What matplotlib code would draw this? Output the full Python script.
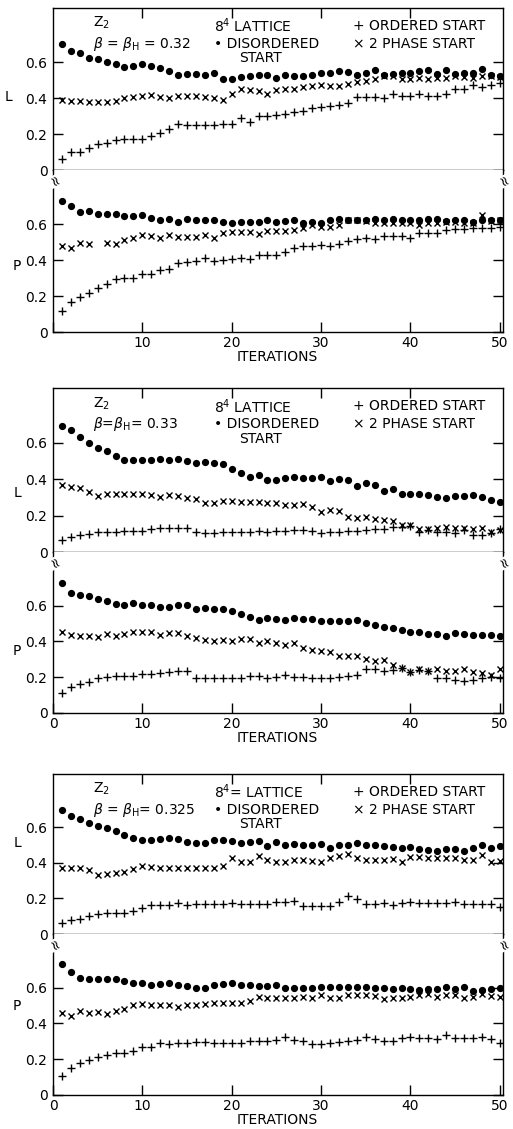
import numpy as np
import matplotlib
matplotlib.use("Agg")
import matplotlib.pyplot as plt

plt.rcParams['font.family'] = ['DejaVu Sans']
plt.rcParams['mathtext.fontset'] = 'dejavusans'

iterations = np.arange(1, 51)
nan = np.nan

# ---------------- Panel 1 : beta = 0.32 ----------------
p1_L_disordered = [0.70, 0.66, 0.65, 0.62, 0.615, 0.60, 0.587, 0.57, 0.58, 0.59,
                   0.58, 0.565, 0.55, 0.53, 0.535, 0.535, 0.53, 0.54, 0.505, 0.505,
                   0.515, 0.52, 0.527, 0.527, 0.51, 0.527, 0.52, 0.525, 0.53, 0.54,
                   0.54, 0.55, 0.545, 0.53, 0.54, 0.553, 0.53, 0.535, 0.54, 0.54,
                   0.548, 0.555, 0.535, 0.553, 0.535, 0.54, 0.54, 0.563, 0.53, 0.52]
p1_L_twophase = [0.39, 0.385, 0.385, 0.38, 0.38, 0.38, 0.385, 0.40, 0.405, 0.41,
                 0.417, 0.405, 0.40, 0.413, 0.41, 0.413, 0.405, 0.40, 0.39, 0.42,
                 0.45, 0.447, 0.44, 0.425, 0.447, 0.45, 0.45, 0.46, 0.465, 0.47,
                 0.465, 0.465, 0.478, 0.49, 0.497, 0.505, 0.525, 0.52, 0.505, 0.505,
                 0.51, 0.505, 0.51, 0.51, 0.525, 0.515, 0.51, 0.525, 0.52, 0.515]
p1_L_ordered = [0.06, 0.10, 0.10, 0.125, 0.145, 0.148, 0.165, 0.17, 0.17, 0.175,
                0.19, 0.207, 0.23, 0.254, 0.25, 0.25, 0.25, 0.252, 0.254, 0.254,
                0.288, 0.267, 0.30, 0.30, 0.305, 0.31, 0.32, 0.33, 0.342, 0.348,
                0.353, 0.363, 0.372, 0.407, 0.407, 0.407, 0.40, 0.42, 0.41, 0.41,
                0.422, 0.41, 0.41, 0.422, 0.45, 0.45, 0.473, 0.46, 0.473, 0.484]
p1_P_disordered = [0.73, 0.70, 0.665, 0.67, 0.658, 0.658, 0.658, 0.647, 0.647, 0.65,
                   0.636, 0.625, 0.628, 0.612, 0.628, 0.62, 0.625, 0.625, 0.612, 0.603,
                   0.612, 0.612, 0.61, 0.625, 0.612, 0.615, 0.625, 0.606, 0.612, 0.603,
                   0.625, 0.63, 0.625, 0.625, 0.62, 0.63, 0.625, 0.63, 0.62, 0.62,
                   0.625, 0.628, 0.628, 0.615, 0.62, 0.625, 0.612, 0.62, 0.625, 0.62]
p1_P_twophase = [0.48, 0.468, 0.495, 0.49, nan, 0.495, 0.49, 0.51, 0.523, 0.54,
                 0.532, 0.523, 0.538, 0.528, 0.528, 0.528, 0.538, 0.52, 0.55, 0.555,
                 0.555, 0.555, 0.547, 0.56, 0.56, 0.56, 0.566, 0.578, 0.597, 0.584,
                 0.584, 0.597, 0.625, 0.62, 0.615, 0.603, 0.606, 0.606, 0.603, 0.603,
                 0.597, 0.606, 0.603, 0.61, 0.61, 0.606, 0.606, 0.648, 0.615, 0.62]
p1_P_ordered = [0.116, 0.168, 0.196, 0.218, 0.246, 0.264, 0.292, 0.30, 0.30, 0.325,
                0.325, 0.347, 0.35, 0.384, 0.388, 0.394, 0.412, 0.394, 0.40, 0.403,
                0.412, 0.407, 0.43, 0.43, 0.43, 0.444, 0.468, 0.477, 0.477, 0.486,
                0.48, 0.49, 0.505, 0.514, 0.52, 0.514, 0.536, 0.532, 0.532, 0.523,
                0.55, 0.55, 0.55, 0.566, 0.57, 0.57, 0.578, 0.578, 0.578, 0.584]

# ---------------- Panel 2 : beta = 0.33 ----------------
p2_L_disordered = [0.69, 0.668, 0.632, 0.60, 0.568, 0.553, 0.526, 0.504, 0.504, 0.504,
                   0.504, 0.513, 0.504, 0.513, 0.50, 0.49, 0.495, 0.486, 0.482, 0.458,
                   0.435, 0.41, 0.42, 0.395, 0.395, 0.404, 0.413, 0.404, 0.404, 0.41,
                   0.39, 0.40, 0.395, 0.363, 0.376, 0.367, 0.336, 0.345, 0.32, 0.316,
                   0.316, 0.312, 0.303, 0.298, 0.31, 0.31, 0.312, 0.303, 0.285, 0.272]
p2_L_twophase = [0.37, 0.358, 0.349, 0.33, 0.307, 0.32, 0.32, 0.32, 0.32, 0.32,
                 0.312, 0.303, 0.312, 0.307, 0.294, 0.29, 0.267, 0.27, 0.28, 0.28,
                 0.276, 0.276, 0.276, 0.27, 0.267, 0.257, 0.257, 0.263, 0.245, 0.22,
                 0.23, 0.225, 0.194, 0.185, 0.194, 0.18, 0.175, 0.172, 0.148, 0.148,
                 0.124, 0.124, 0.13, 0.135, 0.13, 0.13, 0.124, 0.13, 0.11, 0.12]
p2_L_ordered = [0.066, 0.084, 0.093, 0.10, 0.11, 0.11, 0.11, 0.115, 0.115, 0.117,
                0.124, 0.133, 0.133, 0.133, 0.13, 0.11, 0.105, 0.105, 0.11, 0.11,
                0.11, 0.11, 0.115, 0.11, 0.115, 0.115, 0.12, 0.12, 0.115, 0.105,
                0.11, 0.11, 0.115, 0.115, 0.12, 0.124, 0.124, 0.139, 0.139, 0.142,
                0.11, 0.12, 0.11, 0.11, 0.105, 0.12, 0.093, 0.093, 0.105, 0.124]
p2_P_disordered = [0.725, 0.67, 0.657, 0.655, 0.637, 0.624, 0.611, 0.602, 0.615, 0.605,
                   0.602, 0.593, 0.593, 0.605, 0.602, 0.583, 0.587, 0.583, 0.582, 0.572,
                   0.556, 0.536, 0.519, 0.532, 0.527, 0.519, 0.532, 0.528, 0.523, 0.517,
                   0.517, 0.517, 0.514, 0.519, 0.505, 0.492, 0.48, 0.473, 0.464, 0.455,
                   0.455, 0.444, 0.44, 0.431, 0.45, 0.44, 0.437, 0.437, 0.437, 0.428]
p2_P_twophase = [0.453, 0.437, 0.431, 0.431, 0.426, 0.44, 0.428, 0.44, 0.453, 0.453,
                 0.453, 0.437, 0.446, 0.446, 0.428, 0.418, 0.407, 0.404, 0.407, 0.404,
                 0.413, 0.413, 0.394, 0.404, 0.389, 0.38, 0.389, 0.361, 0.352, 0.349,
                 0.34, 0.316, 0.316, 0.316, 0.303, 0.288, 0.294, 0.27, 0.253, 0.229,
                 0.244, 0.235, 0.248, 0.235, 0.235, 0.244, 0.229, 0.224, 0.211, 0.248]
p2_P_ordered = [0.11, 0.143, 0.161, 0.174, 0.193, 0.202, 0.207, 0.206, 0.206, 0.22,
                0.22, 0.226, 0.229, 0.233, 0.233, 0.198, 0.193, 0.193, 0.193, 0.198,
                0.198, 0.206, 0.206, 0.193, 0.202, 0.211, 0.202, 0.202, 0.196, 0.198,
                0.198, 0.202, 0.206, 0.211, 0.244, 0.248, 0.235, 0.239, 0.253, 0.229,
                0.242, 0.235, 0.198, 0.198, 0.187, 0.178, 0.187, 0.193, 0.202, 0.193]

# ---------------- Panel 3 : beta = 0.325 ----------------
p3_L_disordered = [0.70, 0.665, 0.645, 0.626, 0.61, 0.594, 0.58, 0.555, 0.538, 0.529,
                   0.529, 0.533, 0.538, 0.533, 0.52, 0.51, 0.514, 0.529, 0.529, 0.525,
                   0.51, 0.518, 0.523, 0.497, 0.518, 0.50, 0.505, 0.50, 0.50, 0.505,
                   0.482, 0.50, 0.50, 0.51, 0.50, 0.50, 0.497, 0.488, 0.482, 0.488,
                   0.478, 0.473, 0.467, 0.478, 0.478, 0.469, 0.486, 0.50, 0.486, 0.497]
p3_L_twophase = [0.37, 0.374, 0.374, 0.36, 0.333, 0.336, 0.342, 0.351, 0.364, 0.385,
                 0.376, 0.374, 0.374, 0.374, 0.374, 0.374, 0.374, 0.374, 0.38, 0.426,
                 0.407, 0.407, 0.436, 0.417, 0.407, 0.407, 0.417, 0.417, 0.411, 0.407,
                 0.426, 0.436, 0.449, 0.426, 0.417, 0.417, 0.417, 0.422, 0.407, 0.432,
                 0.432, 0.426, 0.426, 0.426, 0.426, 0.417, 0.417, 0.445, 0.407, 0.411]
p3_L_ordered = [0.062, 0.08, 0.084, 0.10, 0.114, 0.118, 0.118, 0.118, 0.127, 0.146,
                0.164, 0.164, 0.164, 0.174, 0.164, 0.168, 0.168, 0.168, 0.168, 0.174,
                0.168, 0.168, 0.17, 0.17, 0.178, 0.178, 0.183, 0.159, 0.159, 0.159,
                0.159, 0.178, 0.211, 0.198, 0.17, 0.17, 0.174, 0.164, 0.174, 0.18,
                0.174, 0.174, 0.174, 0.174, 0.178, 0.168, 0.17, 0.168, 0.17, 0.151]
p3_P_disordered = [0.73, 0.685, 0.655, 0.646, 0.648, 0.648, 0.648, 0.639, 0.624, 0.628,
                   0.615, 0.618, 0.624, 0.615, 0.609, 0.60, 0.60, 0.615, 0.618, 0.624,
                   0.615, 0.615, 0.609, 0.609, 0.615, 0.60, 0.60, 0.60, 0.60, 0.605,
                   0.605, 0.605, 0.605, 0.605, 0.605, 0.596, 0.60, 0.59, 0.596, 0.59,
                   0.587, 0.59, 0.59, 0.601, 0.59, 0.601, 0.581, 0.587, 0.592, 0.596]
p3_P_twophase = [0.456, 0.441, 0.469, 0.46, 0.462, 0.452, 0.469, 0.478, 0.503, 0.508,
                 0.503, 0.503, 0.503, 0.493, 0.503, 0.503, 0.508, 0.512, 0.516, 0.516,
                 0.516, 0.525, 0.55, 0.54, 0.54, 0.54, 0.54, 0.55, 0.54, 0.559,
                 0.54, 0.54, 0.559, 0.559, 0.559, 0.555, 0.534, 0.54, 0.54, 0.546,
                 0.559, 0.562, 0.55, 0.559, 0.559, 0.54, 0.55, 0.562, 0.553, 0.55]
p3_P_ordered = [0.108, 0.153, 0.177, 0.196, 0.21, 0.223, 0.233, 0.233, 0.248, 0.266,
                0.266, 0.289, 0.285, 0.292, 0.292, 0.294, 0.298, 0.292, 0.292, 0.292,
                0.292, 0.302, 0.302, 0.302, 0.307, 0.326, 0.307, 0.302, 0.283, 0.283,
                0.289, 0.298, 0.302, 0.307, 0.326, 0.311, 0.302, 0.302, 0.317, 0.322,
                0.317, 0.317, 0.311, 0.335, 0.317, 0.317, 0.317, 0.326, 0.311, 0.289]

beta_labels = [r"$\beta$ = $\beta_{\rm H}$ = 0.32",
               r"$\beta$=$\beta_{\rm H}$= 0.33",
               r"$\beta$ = $\beta_{\rm H}$= 0.325"]
lattice_labels = [r"8$^4$ LATTICE", r"8$^4$ LATTICE", r"8$^4$= LATTICE"]
y_ticks = [0, 0.2, 0.4, 0.6]
y_tick_labels = ["0", "0.2", "0.4", "0.6"]
x_ticks = [0, 10, 20, 30, 40, 50]

panels = [
    (p1_L_disordered, p1_L_twophase, p1_L_ordered, p1_P_disordered, p1_P_twophase, p1_P_ordered),
    (p2_L_disordered, p2_L_twophase, p2_L_ordered, p2_P_disordered, p2_P_twophase, p2_P_ordered),
    (p3_L_disordered, p3_L_twophase, p3_L_ordered, p3_P_disordered, p3_P_twophase, p3_P_ordered),
]

W, H = 513, 1129
fig = plt.figure(figsize=(W / 100, H / 100), dpi=100)

x_left, x_right = 53, 502.5
# pixel rows (from top): L top, L/P boundary, P bottom
rows = [(8, 170, 332), (388, 552, 713), (774, 934, 1095)]
L_label_pos = [(-0.10, 0.41), (-0.078, 0.317), (-0.078, 0.525)]
P_label_pos = [(-0.08, 0.364), (-0.08, 0.342), (-0.08, 0.509)]

FS = 10
mk = dict(color="black", linestyle="none")


def make_axes(top, bottom):
    return fig.add_axes([x_left / W, 1 - bottom / H, (x_right - x_left) / W, (bottom - top) / H])


for i, (Ld, Lx, Lo, Pd, Px, Po) in enumerate(panels):
    top, mid, bot = rows[i]
    axL = make_axes(top, mid)
    axP = make_axes(mid, bot)
    for ax, d, tp, o in ((axL, Ld, Lx, Lo), (axP, Pd, Px, Po)):
        ax.plot(iterations, d, marker="o", markersize=4.2, **mk)
        ax.plot(iterations, tp, marker="x", markersize=4.5, markeredgewidth=1.0, **mk)
        ax.plot(iterations, o, marker="+", markersize=5.5, markeredgewidth=1.0, **mk)
        ax.set_xlim(0, 50.3)
        ax.set_ylim(0, 0.9)
        ax.set_yticks(y_ticks)
        ax.set_yticklabels(y_tick_labels, fontsize=FS)
        ax.tick_params(axis="y", direction="in", length=7, width=1, left=True, right=True, pad=4)
        for s in ax.spines.values():
            s.set_linewidth(1.0)
    # L axes: ticks on top only
    axL.set_xticks(x_ticks[1:5])
    axL.tick_params(axis="x", direction="in", length=7, width=1, top=True, bottom=False,
                    labelbottom=False, labeltop=False)
    # P axes: ticks on bottom
    axP.set_xticks(x_ticks)
    xl = [str(v) for v in x_ticks]
    if i == 0:
        xl[0] = ""
    axP.set_xticklabels(xl, fontsize=FS)
    axP.tick_params(axis="x", direction="in", length=7, width=1, top=False, bottom=True, pad=3)
    axP.spines["top"].set_visible(False)
    axP.set_xlabel("ITERATIONS", fontsize=FS, labelpad=0)

    axL.set_ylabel("L", fontsize=FS, rotation=0)
    axL.yaxis.set_label_coords(*L_label_pos[i])
    axP.set_ylabel("P", fontsize=FS, rotation=0)
    axP.yaxis.set_label_coords(*P_label_pos[i])

    # break marks on the boundary
    for xa in (0.0, 1.0):
        axP.text(xa, 0.925, "≈", transform=axP.transAxes, ha="center", va="center",
                 fontsize=10, rotation=-60,
                 bbox=dict(boxstyle="square,pad=0.0", fc="white", ec="none"))

    # annotations (x in axes fraction, y in data)
    tr = axL.get_yaxis_transform()
    axL.text(0.089, 0.815, r"Z$_2$", transform=tr, ha="left", va="center", fontsize=FS)
    axL.text(0.089, 0.70, beta_labels[i], transform=tr, ha="left", va="center", fontsize=FS)
    axL.text(0.358, 0.80, lattice_labels[i], transform=tr, ha="left", va="center", fontsize=FS)
    axL.text(0.358, 0.70, "• DISORDERED", transform=tr, ha="left", va="center", fontsize=FS)
    axL.text(0.415, 0.62, "START", transform=tr, ha="left", va="center", fontsize=FS)
    axL.text(0.667, 0.80, "+ ORDERED START", transform=tr, ha="left", va="center", fontsize=FS)
    axL.text(0.667, 0.70, "× 2 PHASE START", transform=tr, ha="left", va="center", fontsize=FS)

fig.savefig("out.png", dpi=100)
